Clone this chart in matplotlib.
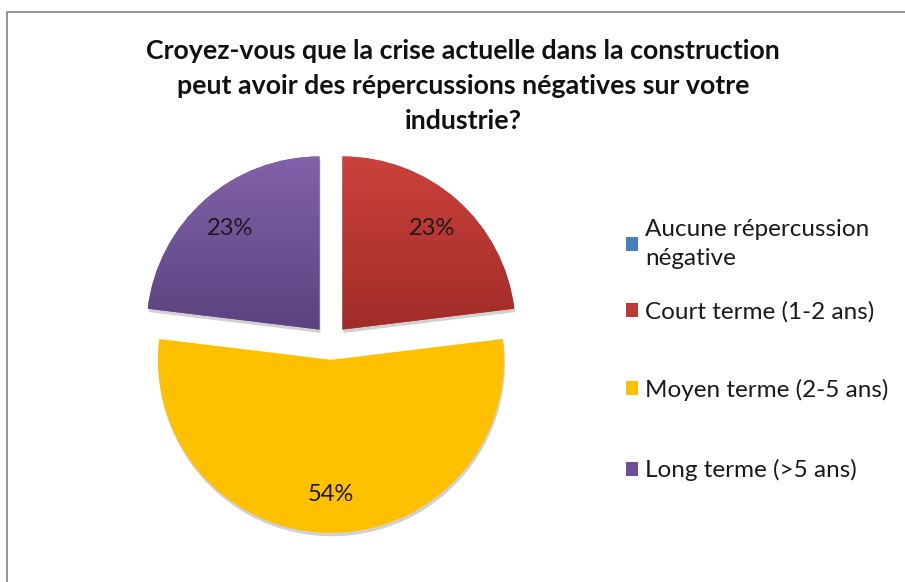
#!/usr/bin/env python3
import numpy as np
import matplotlib as mpl
mpl.use('Agg')
import matplotlib.pyplot as plt
from matplotlib.colors import LinearSegmentedColormap
from matplotlib.lines import Line2D

plt.rcParams['font.family'] = ['Lato', 'DejaVu Sans']

title = ("Croyez-vous que la crise actuelle dans la construction\n"
         "peut avoir des répercussions négatives sur votre\n"
         "industrie?")
labels = ["Aucune répercussion\nnégative",
          "Court terme (1-2 ans)",
          "Moyen terme (2-5 ans)",
          "Long terme (>5 ans)"]
counts = [0, 3, 7, 3]
colors = ['#4A7EBB', '#BE3A35', '#FFC000', '#6F4F98']
# top / bottom shades for the gradient fill (None = flat)
gradients = [None, ('#CC413C', '#A12C28'), None, ('#8262AA', '#5C4280')]

# top of each legend entry, figure fraction
legend_y = [0.645, 0.504, 0.370, 0.232]


def pct_label(p):
    return "%1.0f%%" % p if p > 0 else ''


fig = plt.figure(figsize=(9.05, 5.82), dpi=100)
ax = fig.add_axes([0.1171, 0.0249, 0.4972, 0.7732])

wedges, texts, autotexts = ax.pie(
    counts, colors=colors, startangle=90, counterclock=False,
    explode=[0.1] * len(counts), autopct=pct_label, pctdistance=0.78,
    shadow={'ox': 0.004, 'oy': -0.014, 'facecolor': '#9a9a9a',
            'edgecolor': 'none', 'alpha': 0.45},
    textprops={'fontsize': 17, 'color': '#1a1a1a'})

for w, g in zip(wedges, gradients):
    if g is None:
        continue
    ext = w.get_path().get_extents()
    cmap = LinearSegmentedColormap.from_list('g', [g[1], g[0]])
    grad = np.linspace(0, 1, 256).reshape(-1, 1)
    im = ax.imshow(grad, cmap=cmap, origin='lower', aspect='auto',
                   extent=(ext.x0, ext.x1, ext.y0, ext.y1), zorder=w.get_zorder())
    im.set_clip_path(w)

for t in autotexts:
    t.set_zorder(5)

ax.set_xlim(-1.3, 1.3)
ax.set_ylim(-1.3, 1.3)
ax.set_aspect('equal')
ax.axis('off')

fig.text(0.512, 0.852, title, ha='center', va='center', fontsize=19.3,
         fontweight='bold', linespacing=1.56, color='#111111')

# one legend per entry so the spacing follows the original layout
for w, lab, y in zip(wedges, labels, legend_y):
    leg = fig.legend([w], [lab], loc='upper left', bbox_to_anchor=(0.678, y),
                     frameon=False, fontsize=17.5, handlelength=0.5,
                     handleheight=0.5, handletextpad=0.3, borderpad=0,
                     labelcolor='#1a1a1a')
    for t in leg.get_texts():
        t.set_linespacing(1.5)

# chart-area border (only left and top edges are visible)
fig.add_artist(Line2D([7 / 905, 7 / 905, 1.0], [0.0, 1 - 12 / 582, 1 - 12 / 582],
                      transform=fig.transFigure, color='#8c8c8c', lw=1.3))

plt.savefig('out.png', dpi=100)
plt.close()
